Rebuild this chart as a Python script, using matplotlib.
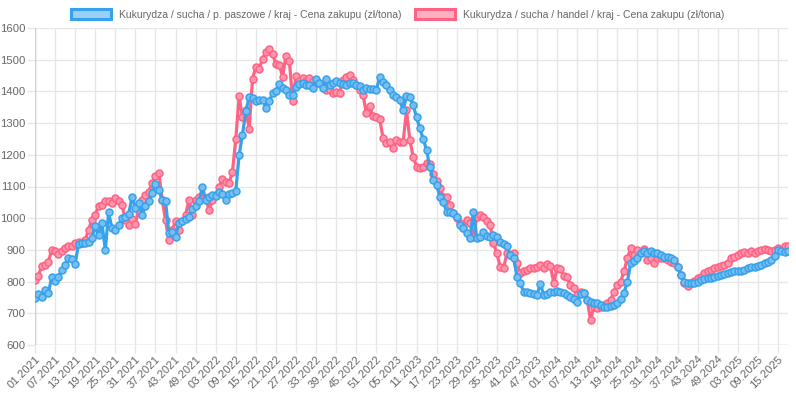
import matplotlib
matplotlib.use("Agg")
import matplotlib.pyplot as plt
from matplotlib.patches import Patch

plt.rcParams['font.family'] = ['Liberation Sans', 'DejaVu Sans']

# week labels: 2021-2024 have 52 ISO weeks, 2025 up to week 18
years = [2021, 2022, 2023, 2024, 2025]
weeks_in_year = [52, 52, 52, 52, 18]
labels = [f"{w:02d}.{y}" for y, n in zip(years, weeks_in_year) for w in range(1, n + 1)]

series_names = ["Kukurydza / sucha / p. paszowe / kraj - Cena zakupu (zł/tona)",
                "Kukurydza / sucha / handel / kraj - Cena zakupu (zł/tona)"]

blue = [747, 761, 750, 772, 763, 816, 803, 816, 837, 853, 874, 871, 856, 919, 921, 923, 926, 937, 974, 947,
        984, 900, 1018, 968, 963, 979, 1000, 1005, 1013, 1068, 1032, 1047, 1011, 1037, 1053, 1079, 1108, 1088,
        1058, 1053, 953, 958, 942, 984, 990, 997, 1005, 1028, 1037, 1053, 1100, 1058, 1068, 1074, 1071, 1084,
        1076, 1058, 1076, 1080, 1086,
        1200, 1264, 1338, 1382, 1380, 1371, 1374, 1374, 1349, 1369, 1395, 1402, 1423, 1410, 1405, 1390, 1390,
        1415, 1424,
        1426, 1421, 1421, 1411, 1439, 1428, 1411, 1439, 1421, 1428, 1432, 1426, 1424, 1421, 1428, 1426, 1421,
        1416, 1405, 1411, 1407, 1407, 1405,
        1445, 1431, 1420, 1405, 1389, 1383, 1372, 1341,
        1384, 1382, 1357, 1318, 1284, 1250, 1215, 1160, 1120, 1105, 1068, 1050, 1021, 1021, 1016, 1003, 979,
        968, 953, 937, 1021, 937, 942, 958, 945, 942, 947, 942, 926, 919, 911, 884, 876, 816, 795, 768, 768,
        765, 761,
        758,
        794, 757, 761, 768, 768, 771, 768, 763, 758, 750, 744, 737, 760, 765, 742, 737, 734, 731, 726, 719,
        719, 723, 726, 731, 745, 765, 800, 858, 866, 875, 889, 895, 889, 895, 889, 889,
        884, 879, 879, 874, 868, 847, 821, 800, 795, 795, 797, 800, 805, 808, 811, 811, 813, 818, 821, 824,
        826, 829, 832, 834, 834, 837, 842, 845, 847, 850, 853, 858, 863, 868, 881, 900, 895, 893, 895]

red = [805, 818, 850, 853, 863, 900, 895, 886, 897, 907, 913, 913, 921, 924, 923, 932, 963, 995, 1011, 1039,
       1042, 1053, 1053, 1047, 1063, 1053, 1042, 995, 979, 997, 982, 1026, 1058, 1074, 1084, 1111, 1132, 1144,
       1058, 995, 930, 963, 990, 963, 990, 1011, 1058, 1011, 1058, 1068, 1063, 1063, 1026, 1058, 1074, 1100,
       1123, 1113, 1111, 1147, 1251,
       1385, 1318, 1340, 1282, 1440, 1477, 1472, 1503, 1523, 1533, 1518, 1487, 1482, 1447, 1513, 1497, 1369,
       1450, 1432,
       1442, 1434, 1442, 1434, 1428, 1426, 1418, 1403, 1405, 1395, 1397, 1395, 1437, 1447, 1453, 1437, 1421,
       1405, 1389, 1332, 1353, 1321, 1319,
       1313, 1253, 1236, 1240, 1222, 1247, 1241, 1241, 1340,
       1247, 1194, 1163, 1157, 1160, 1173, 1170, 1140, 1116, 1095, 1068, 1068, 1042, 1016, 1000, 984, 968,
       995, 984, 942, 1005, 1011, 1005, 990, 979, 921, 889, 847, 842, 889, 884, 889, 858, 826, 832, 837, 842,
       842,
       845, 853, 842, 855, 850, 795, 842, 839, 818, 816, 789, 779, 758, 768, 763, 742, 679, 721, 718, 721,
       726, 732, 742, 768, 789, 800, 832, 874, 905, 884, 900, 889, 903, 868, 874, 858, 874,
       876, 874, 868, 863, 858, 847, 821, 795, 787, 795, 803, 811, 816, 826, 832, 837, 842, 847, 850, 853,
       858, 876, 879, 884, 889, 892, 889, 895, 889, 895, 900, 903, 900, 897, 900, 905, 900, 911, 913]

y_ticks = list(range(600, 1601, 100))

BLUE = (54/255, 162/255, 235/255)
RED = (255/255, 99/255, 132/255)
BLUE_A = (120/255, 190/255, 240/255)
RED_A = (255/255, 150/255, 172/255)
BLUE_L = (154/255, 208/255, 245/255)
RED_L = (255/255, 177/255, 193/255)

W, H = 796, 396
fig = plt.figure(figsize=(W/100, H/100), dpi=100)
ax = fig.add_axes([35/W, 1 - 345/H, (788-35)/W, (345-28)/H])

x = list(range(len(labels)))
ax.plot(x, red, color=RED, lw=2.3, marker='o', ms=5.0, mfc=RED_A, mec=RED, mew=1.1, zorder=3)
ax.plot(x, blue, color=BLUE, lw=2.3, marker='o', ms=5.0, mfc=BLUE_A, mec=BLUE, mew=1.1, zorder=4)

ax.set_xlim(0, len(labels) - 1)
ax.set_ylim(600, 1600)
ax.set_yticks(y_ticks)
ax.set_yticklabels([str(v) for v in y_ticks])
tick_idx = list(range(0, len(labels), 6))
ax.set_xticks(tick_idx)
ax.set_xticklabels([labels[i] for i in tick_idx], rotation=45, ha='right', rotation_mode='anchor')

GRID = '#e6e6e6'
for s in ax.spines.values():
    s.set_visible(False)
ax.grid(True, color=GRID, linewidth=1.0)
ax.set_axisbelow(True)
ax.axhline(600, color='#cfcfcf', lw=1, zorder=1)
ax.axvline(0, color='#cfcfcf', lw=1, zorder=1)
ax.tick_params(axis='both', color=GRID, length=5.5, width=1, labelcolor='#666666', labelsize=8.1)
ax.tick_params(axis='y', pad=1.5)
ax.tick_params(axis='x', pad=1)

handles = [Patch(facecolor=BLUE_L, edgecolor=BLUE, lw=2.2),
           Patch(facecolor=RED_L, edgecolor=RED, lw=2.2)]
leg = fig.legend(handles, series_names, loc='upper center', bbox_to_anchor=(0.5, 1.0), ncol=2,
                 frameon=False, fontsize=7.5, handlelength=3.8, handleheight=1.1,
                 columnspacing=1.3, handletextpad=0.8, labelcolor='#666666')

fig.savefig("out.png", dpi=100)
